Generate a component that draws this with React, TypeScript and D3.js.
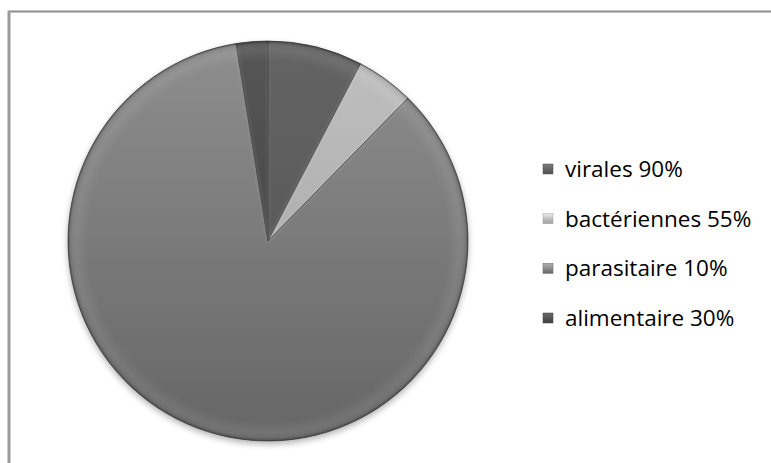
import React from "react";
import * as d3 from "d3";

const categories = ["virales 90%", "bactériennes 55%", "parasitaire 10%", "alimentaire 30%"];
const values = [90, 55, 1000, 30];
const topColors = ["#646464", "#c0c0c0", "#8e8e8e", "#555555"];
const bottomColors = ["#505050", "#a0a0a0", "#666666", "#404040"];

const W = 771;
const H = 463;
const cx = 268;
const cy = 241;
const R = 200;

export default function App() {
  const pie = d3.pie<number>().sort(null).value((d) => d)(values);
  const arc = d3.arc<d3.PieArcDatum<number>>().innerRadius(0).outerRadius(R);
  const innerArc = d3.arc<d3.PieArcDatum<number>>().innerRadius(0).outerRadius(R - 4);
  const legendY = d3.scalePoint<string>().domain(categories).range([169, 318]);

  return (
    <svg width={W} height={H} style={{ position: "absolute", left: 0, top: 0, background: "#fff" }}>
      <defs>
        {values.map((_, i) => (
          <linearGradient key={i} id={`g${i}`} gradientUnits="userSpaceOnUse" x1={0} y1={-R} x2={0} y2={R}>
            <stop offset="0" stopColor={topColors[i]} />
            <stop offset="1" stopColor={bottomColors[i]} />
          </linearGradient>
        ))}
        {values.map((_, i) => (
          <linearGradient key={"l" + i} id={`lg${i}`} x1="0" y1="0" x2="0" y2="1">
            <stop offset="0" stopColor={d3.color(topColors[i])!.brighter(0.6).toString()} />
            <stop offset="0.5" stopColor={topColors[i]} />
            <stop offset="1" stopColor={bottomColors[i]} />
          </linearGradient>
        ))}
        <radialGradient id="rim" gradientUnits="userSpaceOnUse" cx={cx} cy={cy} r={R}>
          <stop offset="0.9" stopColor="#fff" stopOpacity="0" />
          <stop offset="0.96" stopColor="#fff" stopOpacity="0.08" />
          <stop offset="0.99" stopColor="#000" stopOpacity="0.08" />
          <stop offset="1" stopColor="#000" stopOpacity="0.3" />
        </radialGradient>
        <filter id="shadow" x="-10%" y="-10%" width="120%" height="125%">
          <feGaussianBlur in="SourceAlpha" stdDeviation="3" />
          <feOffset dx="0" dy="3" result="b" />
          <feComponentTransfer>
            <feFuncA type="linear" slope="0.3" />
          </feComponentTransfer>
          <feMerge>
            <feMergeNode />
            <feMergeNode in="SourceGraphic" />
          </feMerge>
        </filter>
        <filter id="soft" x="-5%" y="-5%" width="110%" height="110%">
          <feGaussianBlur stdDeviation="1.5" />
        </filter>
      </defs>

      <line x1={8} y1={11.5} x2={W} y2={11.5} stroke="#8c8c8c" strokeWidth={2} />
      <line x1={9} y1={11} x2={9} y2={H} stroke="#9a9a9a" strokeWidth={3} />

      <g transform={`translate(${cx},${cy})`} filter="url(#shadow)">
        {pie.map((d, i) => (
          <path key={i} d={arc(d) || ""} fill={`url(#g${i})`} stroke="#3a3a3a" strokeWidth={0.7} strokeLinejoin="round" />
        ))}
      </g>
      <g transform={`translate(${cx},${cy})`} filter="url(#soft)" opacity={0.12}>
        {pie.map((d, i) => (
          <path key={i} d={innerArc(d) || ""} fill="none" stroke="#fff" strokeWidth={2} />
        ))}
      </g>
      <circle cx={cx} cy={cy} r={R} fill="url(#rim)" />

      <g>
        {categories.map((c, i) => {
          const y = legendY(c)!;
          return (
            <g key={c}>
              <rect x={543} y={y - 5} width={10} height={10} fill={`url(#lg${i})`} stroke={bottomColors[i]} strokeWidth={0.5} />
              <text x={565} y={y} dy="0.36em" fontFamily="'Open Sans', sans-serif" fontSize={22.5} fill="#000">
                {c}
              </text>
            </g>
          );
        })}
      </g>
    </svg>
  );
}
